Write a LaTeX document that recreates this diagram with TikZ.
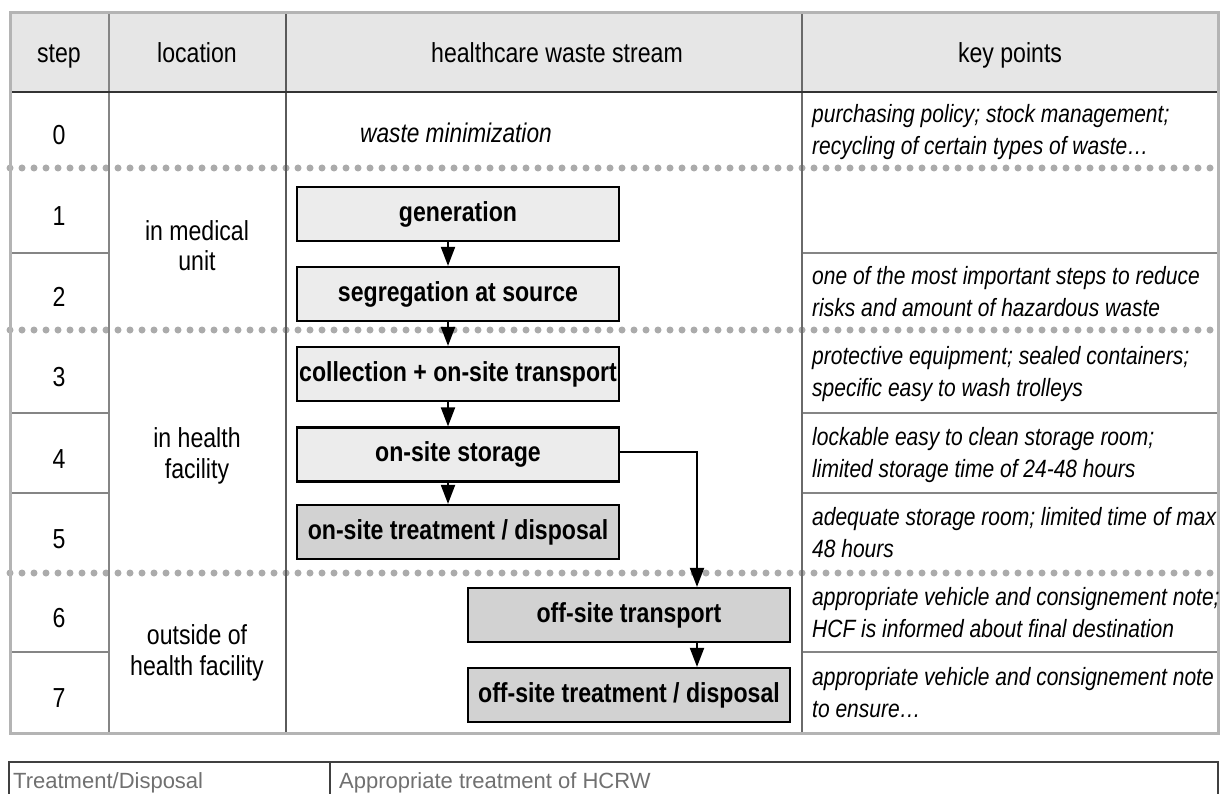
\documentclass[tikz,border=0pt]{standalone}
\usepackage{fontspec}
\setmainfont{Liberation Sans}[FakeStretch=0.84]
\newfontfamily\legendfont{Liberation Sans}
\usetikzlibrary{arrows.meta}

\definecolor{hdrfill}{HTML}{E6E6E6}
\definecolor{boxlight}{HTML}{ECECEC}
\definecolor{boxdark}{HTML}{D2D2D2}
\definecolor{framegray}{HTML}{B4B4B4}
\definecolor{dotgray}{HTML}{ABABAB}
\definecolor{rulegray}{HTML}{858585}
\definecolor{colgray}{HTML}{5A5A5A}
\definecolor{notegray}{HTML}{707070}

\begin{document}
\begin{tikzpicture}[x=1pt,y=-1pt,
  hdr/.style={font=\fontsize{27.5}{31}\selectfont, inner sep=0pt, anchor=base},
  stepnum/.style={font=\fontsize{27.5}{31}\selectfont, inner sep=0pt, anchor=base},
  loc/.style={font=\fontsize{27.5}{31}\selectfont, inner sep=0pt, align=center, anchor=base},
  keypt/.style={font=\fontsize{25}{32}\selectfont\itshape, inner sep=0pt, align=left, anchor=base west},
  flowbox/.style={draw=black, line width=2.2pt, minimum width=322pt, minimum height=54pt,
                  inner sep=0pt, font=\fontsize{27.5}{31}\selectfont\bfseries},
  lightbox/.style={flowbox, fill=boxlight},
  darkbox/.style={flowbox, fill=boxdark},
  flowarrow/.style={draw=black, line width=2pt, -{Triangle[width=14pt,length=19pt]}},
  dotrule/.style={draw=dotgray, line width=7pt, line cap=round, dash pattern=on 0pt off 12pt},
  cellrule/.style={draw=rulegray, line width=1.6pt},
  colrule/.style={draw=colgray, line width=2pt},
  legend/.style={font=\legendfont\fontsize{22}{24}\selectfont, text=notegray, inner sep=0pt, anchor=base west}
]
\useasboundingbox (0,0) rectangle (1220,794);
\fill[white] (0,0) rectangle (1220,794);

% header band
\fill[hdrfill] (10,13) rectangle (1218,92);

% dotted phase separators
\draw[dotrule] (10,168) -- (1218,168);
\draw[dotrule] (10,330) -- (1218,330);
\draw[dotrule] (10,573) -- (1218,573);

% row separators in the step and key-point columns
\foreach \yy in {253,413,493,652} {
  \draw[cellrule] (10,\yy) -- (109,\yy);
  \draw[cellrule] (802,\yy) -- (1218,\yy);
}

% column rules
\draw[colrule, draw=rulegray] (109,13) -- (109,733);
\draw[colrule] (286,13) -- (286,733);
\draw[colrule, draw=rulegray!80!black] (802,13) -- (802,733);

% header bottom rule and outer frame
\draw[draw=black!80, line width=2.2pt] (10,92) -- (1218,92);
\draw[draw=framegray, line width=3pt] (10,13) rectangle (1218,733);

% header texts
\node[hdr] (hstep) at (59,63) {step};
\node[hdr] (hloc)  at (197,63) {location};
\node[hdr] (hwst)  at (557,63) {healthcare waste stream};
\node[hdr] (hkey)  at (1010,63) {key points};

% step numbers
\node[stepnum] (s0) at (59,145) {0};
\node[stepnum] (s1) at (59,225.5) {1};
\node[stepnum] (s2) at (59,306.5) {2};
\node[stepnum] (s3) at (59,386.5) {3};
\node[stepnum] (s4) at (59,468) {4};
\node[stepnum] (s5) at (59,548) {5};
\node[stepnum] (s6) at (59,627.5) {6};
\node[stepnum] (s7) at (59,707.5) {7};

% locations (anchored on the baseline of the last line)
\node[loc] (lmed) at (197,271) {in medical\\unit};
\node[loc] (lhcf) at (197,478) {in health\\facility};
\node[loc] (lout) at (197,675) {outside of\\health facility};

% step 0
\node[font=\fontsize{27}{31}\selectfont\itshape, inner sep=0pt, anchor=base] (wmin) at (456,143) {waste minimization};

% key points (anchored on the baseline of the last line)
\node[keypt] (k0) at (812,154.5) {purchasing policy; stock management;\\recycling of certain types of waste…};
\node[keypt] (k2) at (812,316) {one of the most important steps to reduce\\risks and amount of hazardous waste};
\node[keypt] (k3) at (812,396) {protective equipment; sealed containers;\\specific easy to wash trolleys};
\node[keypt] (k4) at (812,477.5) {lockable easy to clean storage room;\\limited storage time of 24-48 hours};
\node[keypt] (k5) at (812,557.5) {adequate storage room; limited time of max\\48 hours};
\node[keypt] (k6) at (812,637) {appropriate vehicle and consignement note;\\HCF is informed about final destination};
\node[keypt] (k7) at (812,717) {appropriate vehicle and consignement note\\to ensure…};

% waste stream boxes
\node[lightbox] (gen)  at (458,214)  {generation};
\node[lightbox] (seg)  at (458,294)  {segregation at source};
\node[lightbox] (coll) at (458,374)  {collection + on-site transport};
\node[lightbox] (stor) at (458,454.5){on-site storage};
\node[darkbox]  (ontd) at (458,532)  {on-site treatment / disposal};
\node[darkbox]  (offt) at (629,615)  {off-site transport};
\node[darkbox]  (offd) at (629,695)  {off-site treatment / disposal};

% arrows
\coordinate (ax) at (448,0);
\coordinate (bx) at (697,452);
\draw[flowarrow] (gen.south -| ax)  -- (seg.north -| ax);
\draw[flowarrow] (seg.south -| ax)  -- (coll.north -| ax);
\draw[flowarrow] (coll.south -| ax) -- (stor.north -| ax);
\draw[flowarrow] (stor.south -| ax) -- (ontd.north -| ax);
\draw[flowarrow] (stor.east |- bx) -- (bx) -- (offt.north -| bx);
\draw[flowarrow] (offt.south -| bx) -- (offd.north -| bx);

% lower legend table
\draw[draw=black!75, line width=2pt] (9,800) -- (9,762) -- (1218,762) -- (1218,800);
\draw[draw=black!75, line width=1.5pt] (330,762) -- (330,800);
\node[legend] (ltd) at (13,788) {Treatment/Disposal};
\node[legend] (lat) at (339,788) {Appropriate treatment of HCRW};
\end{tikzpicture}
\end{document}
